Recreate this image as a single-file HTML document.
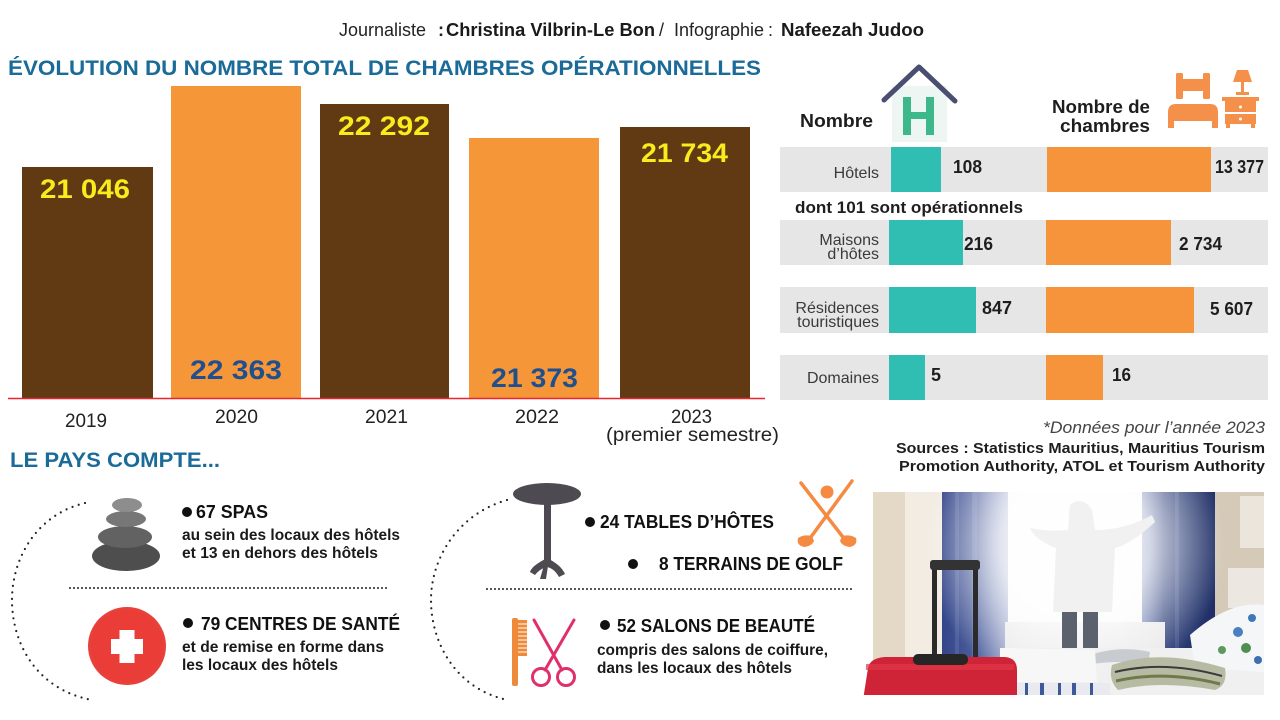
<!DOCTYPE html>
<html>
<head>
<meta charset="utf-8">
<style>
  html,body{margin:0;padding:0;background:#fff;}
  svg{display:block;}
  text{font-family:"Liberation Sans",Arial,sans-serif;}
</style>
</head>
<body>
<svg width="1280" height="720" viewBox="0 0 1280 720" xmlns="http://www.w3.org/2000/svg">
<defs>
  <radialGradient id="glow" cx="1075" cy="545" r="150" gradientUnits="userSpaceOnUse">
    <stop offset="0" stop-color="#ffffff" stop-opacity="1"/>
    <stop offset="0.5" stop-color="#ffffff" stop-opacity="0.75"/>
    <stop offset="1" stop-color="#ffffff" stop-opacity="0"/>
  </radialGradient>
  <linearGradient id="curtL" x1="942" y1="0" x2="1008" y2="0" gradientUnits="userSpaceOnUse">
    <stop offset="0" stop-color="#34468a"/>
    <stop offset="0.5" stop-color="#4a5c9a"/>
    <stop offset="1" stop-color="#9aa5cc"/>
  </linearGradient>
  <linearGradient id="curtR" x1="1142" y1="0" x2="1215" y2="0" gradientUnits="userSpaceOnUse">
    <stop offset="0" stop-color="#6a7bb0"/>
    <stop offset="0.3" stop-color="#2c3d78"/>
    <stop offset="1" stop-color="#1f2f66"/>
  </linearGradient>
  <clipPath id="pc"><rect x="873" y="492" width="391" height="203"/></clipPath>
  <clipPath id="sc"><rect x="860" y="490" width="420" height="205"/></clipPath>
</defs>

<!-- Header -->
<text x="339" y="36" font-size="18" fill="#222" textLength="87" lengthAdjust="spacingAndGlyphs">Journaliste</text>
<text x="438" y="36" font-size="18" fill="#222" font-weight="bold">:</text>
<text x="446" y="36" font-size="18" fill="#1a1a1a" font-weight="bold" textLength="209" lengthAdjust="spacingAndGlyphs">Christina Vilbrin-Le Bon</text>
<text x="659" y="36" font-size="18" fill="#222">/</text>
<text x="674" y="36" font-size="18" fill="#222" textLength="90" lengthAdjust="spacingAndGlyphs">Infographie</text>
<text x="768" y="36" font-size="18" fill="#222">:</text>
<text x="781" y="36" font-size="18" fill="#1a1a1a" font-weight="bold" textLength="143" lengthAdjust="spacingAndGlyphs">Nafeezah Judoo</text>

<!-- Title -->
<text x="8" y="75" font-size="21" font-weight="bold" fill="#1b6b99" textLength="753" lengthAdjust="spacingAndGlyphs">ÉVOLUTION DU NOMBRE TOTAL DE CHAMBRES OPÉRATIONNELLES</text>

<!-- Bars -->
<rect x="22" y="167" width="131" height="231" fill="#613a14"/>
<rect x="171" y="86" width="130" height="312" fill="#f59638"/>
<rect x="320" y="104" width="129" height="294" fill="#613a14"/>
<rect x="469" y="138" width="130" height="260" fill="#f59638"/>
<rect x="620" y="127" width="130" height="271" fill="#613a14"/>
<line x1="8" y1="398.5" x2="765" y2="398.5" stroke="#e8262f" stroke-width="1.5"/>

<text x="40" y="198" font-size="27" font-weight="bold" fill="#f7ec1c" textLength="90" lengthAdjust="spacingAndGlyphs">21 046</text>
<text x="190" y="379" font-size="27" font-weight="bold" fill="#1f4f8f" textLength="92" lengthAdjust="spacingAndGlyphs">22 363</text>
<text x="338" y="135" font-size="27" font-weight="bold" fill="#f7ec1c" textLength="92" lengthAdjust="spacingAndGlyphs">22 292</text>
<text x="491" y="387" font-size="27" font-weight="bold" fill="#1f4f8f" textLength="87" lengthAdjust="spacingAndGlyphs">21 373</text>
<text x="641" y="162" font-size="27" font-weight="bold" fill="#f7ec1c" textLength="87" lengthAdjust="spacingAndGlyphs">21 734</text>

<!-- Year labels -->
<text x="65" y="427" font-size="19" fill="#222" textLength="42" lengthAdjust="spacingAndGlyphs">2019</text>
<text x="215" y="423" font-size="19" fill="#222" textLength="43" lengthAdjust="spacingAndGlyphs">2020</text>
<text x="365" y="423" font-size="19" fill="#222" textLength="43" lengthAdjust="spacingAndGlyphs">2021</text>
<text x="515" y="423" font-size="19" fill="#222" textLength="44" lengthAdjust="spacingAndGlyphs">2022</text>
<text x="671" y="423" font-size="19" fill="#222" textLength="41" lengthAdjust="spacingAndGlyphs">2023</text>
<text x="606" y="441" font-size="19" fill="#222" textLength="173" lengthAdjust="spacingAndGlyphs">(premier semestre)</text>

<text x="10" y="467" font-size="21" font-weight="bold" fill="#1b6b99" textLength="210" lengthAdjust="spacingAndGlyphs">LE PAYS COMPTE...</text>

<!-- Right panel header -->
<text x="800" y="127" font-size="18" font-weight="bold" fill="#1e1e1e" textLength="73" lengthAdjust="spacingAndGlyphs">Nombre</text>
<rect x="892" y="86" width="55" height="56" fill="#eef6f3"/>
<polyline points="884,100 919,67 955,101" fill="none" stroke="#4a4f72" stroke-width="5" stroke-linecap="round" stroke-linejoin="round"/>
<rect x="903" y="97" width="8" height="38" fill="#3cb88b"/>
<rect x="926" y="97" width="8" height="38" fill="#3cb88b"/>
<rect x="903" y="112" width="31" height="7" fill="#3cb88b"/>

<text x="1052" y="113" font-size="18" font-weight="bold" fill="#1e1e1e" textLength="98" lengthAdjust="spacingAndGlyphs">Nombre de</text>
<text x="1060" y="132" font-size="18" font-weight="bold" fill="#1e1e1e" textLength="90" lengthAdjust="spacingAndGlyphs">chambres</text>

<!-- bed icon -->
<g fill="#f5904a">
  <rect x="1176" y="73" width="7" height="26" rx="1.5"/>
  <rect x="1203" y="73" width="7" height="26" rx="1.5"/>
  <rect x="1176" y="79" width="34" height="12"/>
  <path d="M1168 128 L1168 112 Q1168 104 1176 104 L1210 104 Q1218 104 1218 112 L1218 128 L1212 128 L1212 121 L1174 121 L1174 128 Z"/>
  <path d="M1233 82 L1237 70 L1248 70 L1252 82 Z"/>
  <rect x="1241" y="82" width="3" height="11"/>
  <rect x="1236" y="92" width="13" height="3"/>
  <rect x="1222" y="97" width="37" height="4"/>
  <rect x="1225" y="101" width="31" height="23"/>
  <rect x="1226" y="124" width="4" height="4"/>
  <rect x="1251" y="124" width="4" height="4"/>
</g>
<rect x="1225" y="112" width="31" height="2" fill="#fff"/>
<circle cx="1240.5" cy="107" r="1.5" fill="#fff"/>
<circle cx="1240.5" cy="119" r="1.5" fill="#fff"/>

<!-- Rows -->
<rect x="780" y="147" width="488" height="45" fill="#e6e6e6"/>
<rect x="891" y="147" width="50" height="45" fill="#30bdb2"/>
<rect x="1047" y="147" width="164" height="45" fill="#f5943a"/>
<text x="879" y="178" font-size="16" fill="#3a3a3a" text-anchor="end">Hôtels</text>
<text x="953" y="173" font-size="18" font-weight="bold" fill="#1e1e1e" textLength="29" lengthAdjust="spacingAndGlyphs">108</text>
<text x="1215" y="173" font-size="18" font-weight="bold" fill="#1e1e1e" textLength="49" lengthAdjust="spacingAndGlyphs">13 377</text>

<text x="795" y="213" font-size="17" font-weight="bold" fill="#1e1e1e" textLength="228" lengthAdjust="spacingAndGlyphs">dont 101 sont opérationnels</text>

<rect x="780" y="220" width="488" height="45" fill="#e6e6e6"/>
<rect x="889" y="220" width="74" height="45" fill="#30bdb2"/>
<rect x="1046" y="220" width="125" height="45" fill="#f5943a"/>
<text x="879" y="245" font-size="16" fill="#3a3a3a" text-anchor="end">Maisons</text>
<text x="879" y="259" font-size="16" fill="#3a3a3a" text-anchor="end">d’hôtes</text>
<text x="964" y="250" font-size="18" font-weight="bold" fill="#1e1e1e" textLength="29" lengthAdjust="spacingAndGlyphs">216</text>
<text x="1179" y="250" font-size="18" font-weight="bold" fill="#1e1e1e" textLength="43" lengthAdjust="spacingAndGlyphs">2 734</text>

<rect x="780" y="287" width="488" height="46" fill="#e6e6e6"/>
<rect x="889" y="287" width="87" height="46" fill="#30bdb2"/>
<rect x="1046" y="287" width="148" height="46" fill="#f5943a"/>
<text x="879" y="313" font-size="16" fill="#3a3a3a" text-anchor="end">Résidences</text>
<text x="879" y="327" font-size="16" fill="#3a3a3a" text-anchor="end">touristiques</text>
<text x="982" y="314" font-size="18" font-weight="bold" fill="#1e1e1e" textLength="30" lengthAdjust="spacingAndGlyphs">847</text>
<text x="1210" y="315" font-size="18" font-weight="bold" fill="#1e1e1e" textLength="43" lengthAdjust="spacingAndGlyphs">5 607</text>

<rect x="780" y="355" width="488" height="45" fill="#e6e6e6"/>
<rect x="889" y="355" width="36" height="45" fill="#30bdb2"/>
<rect x="1046" y="355" width="57" height="45" fill="#f5943a"/>
<text x="879" y="383" font-size="16" fill="#3a3a3a" text-anchor="end">Domaines</text>
<text x="931" y="381" font-size="18" font-weight="bold" fill="#1e1e1e">5</text>
<text x="1112" y="381" font-size="18" font-weight="bold" fill="#1e1e1e" textLength="19" lengthAdjust="spacingAndGlyphs">16</text>

<text x="1265" y="433" font-size="17" font-style="italic" fill="#444" text-anchor="end" textLength="222" lengthAdjust="spacingAndGlyphs">*Données pour l’année 2023</text>
<text x="1265" y="453" font-size="15" font-weight="bold" fill="#1e1e1e" text-anchor="end" textLength="369" lengthAdjust="spacingAndGlyphs">Sources : Statistics Mauritius, Mauritius Tourism</text>
<text x="1265" y="471" font-size="15" font-weight="bold" fill="#1e1e1e" text-anchor="end" textLength="366" lengthAdjust="spacingAndGlyphs">Promotion Authority, ATOL et Tourism Authority</text>

<!-- Bottom left -->
<path d="M85 503 C35 515 12 560 12 600 C12 645 38 690 92 700" fill="none" stroke="#222" stroke-width="2.2" stroke-dasharray="0 6.5" stroke-linecap="round"/>
<line x1="70" y1="588" x2="388" y2="588" stroke="#222" stroke-width="2" stroke-dasharray="0 4" stroke-linecap="round"/>

<ellipse cx="126" cy="556" rx="34" ry="15" fill="#4e4e4e"/>
<ellipse cx="125" cy="537" rx="27" ry="11" fill="#626262"/>
<ellipse cx="126" cy="519" rx="20" ry="8" fill="#777"/>
<ellipse cx="127" cy="505" rx="15" ry="7" fill="#8d8d8d"/>

<circle cx="187" cy="512" r="5" fill="#111"/>
<text x="196" y="518" font-size="18" font-weight="bold" fill="#111" textLength="72" lengthAdjust="spacingAndGlyphs">67 SPAS</text>
<text x="182" y="540" font-size="15.5" font-weight="bold" fill="#1a1a1a" textLength="218" lengthAdjust="spacingAndGlyphs">au sein des locaux des hôtels</text>
<text x="182" y="558" font-size="15.5" font-weight="bold" fill="#1a1a1a" textLength="196" lengthAdjust="spacingAndGlyphs">et 13 en dehors des hôtels</text>

<circle cx="127" cy="646" r="39" fill="#e8413c"/>
<circle cx="127" cy="646" r="36" fill="#ea3d37"/>
<rect x="111" y="639" width="32" height="15" fill="#fff"/>
<rect x="119.5" y="630" width="15" height="33" fill="#fff"/>

<circle cx="188" cy="623" r="5" fill="#111"/>
<text x="201" y="630" font-size="18" font-weight="bold" fill="#111" textLength="199" lengthAdjust="spacingAndGlyphs">79 CENTRES DE SANTÉ</text>
<text x="182" y="652" font-size="15.5" font-weight="bold" fill="#1a1a1a" textLength="202" lengthAdjust="spacingAndGlyphs">et de remise en forme dans</text>
<text x="182" y="670" font-size="15.5" font-weight="bold" fill="#1a1a1a" textLength="156" lengthAdjust="spacingAndGlyphs">les locaux des hôtels</text>

<!-- Bottom middle -->
<path d="M507 500 C458 514 431 558 431 600 C431 645 458 690 508 700" fill="none" stroke="#222" stroke-width="2.2" stroke-dasharray="0 6.5" stroke-linecap="round"/>
<line x1="487" y1="589" x2="855" y2="589" stroke="#222" stroke-width="2" stroke-dasharray="0 4" stroke-linecap="round"/>

<!-- table -->
<g fill="#4d4b51">
  <ellipse cx="547" cy="494" rx="34" ry="11"/>
  <rect x="544" y="500" width="7" height="62"/>
  <path d="M547 558 C540 562 532 566 530 572 L535 575 C539 570 543 568 547 567 C551 568 555 570 559 577 L565 574 C562 567 555 562 547 558 Z"/>
  <path d="M544 565 L540 579 L546 579 L548 566 Z"/>
</g>
<circle cx="590" cy="522" r="5" fill="#111"/>
<text x="600" y="528" font-size="18" font-weight="bold" fill="#111" textLength="174" lengthAdjust="spacingAndGlyphs">24 TABLES D’HÔTES</text>

<!-- golf -->
<g stroke="#f58b43" stroke-width="3.5" stroke-linecap="round" fill="none">
  <line x1="801" y1="483" x2="846" y2="541"/>
  <line x1="852" y1="481" x2="808" y2="541"/>
</g>
<g fill="#f58b43">
  <circle cx="827" cy="492" r="6.5"/>
  <path d="M842 536 Q850 534 856 538 Q858 545 850 547 Q842 546 840 541 Z"/>
  <path d="M812 536 Q804 534 798 538 Q796 545 804 547 Q812 546 814 541 Z"/>
</g>
<circle cx="633" cy="564" r="5" fill="#111"/>
<text x="659" y="570" font-size="18" font-weight="bold" fill="#111" textLength="184" lengthAdjust="spacingAndGlyphs">8 TERRAINS DE GOLF</text>

<!-- comb -->
<g fill="#ef8a3a">
  <rect x="512" y="618" width="6" height="68" rx="2"/>
  <rect x="518" y="620" width="9" height="36"/>
</g>
<g stroke="#fff" stroke-width="1">
  <line x1="518" y1="624" x2="527" y2="624"/><line x1="518" y1="628" x2="527" y2="628"/>
  <line x1="518" y1="632" x2="527" y2="632"/><line x1="518" y1="636" x2="527" y2="636"/>
  <line x1="518" y1="640" x2="527" y2="640"/><line x1="518" y1="644" x2="527" y2="644"/>
  <line x1="518" y1="648" x2="527" y2="648"/><line x1="518" y1="652" x2="527" y2="652"/>
</g>
<!-- scissors -->
<g stroke="#e0306a" stroke-width="3" fill="none" stroke-linecap="round">
  <line x1="534" y1="620" x2="562" y2="670"/>
  <line x1="574" y1="620" x2="545" y2="670"/>
  <circle cx="541" cy="677" r="8.5"/>
  <circle cx="566" cy="677" r="8.5"/>
</g>
<circle cx="605" cy="625" r="5" fill="#111"/>
<text x="617" y="632" font-size="18" font-weight="bold" fill="#111" textLength="198" lengthAdjust="spacingAndGlyphs">52 SALONS DE BEAUTÉ</text>
<text x="597" y="655" font-size="15.5" font-weight="bold" fill="#1a1a1a" textLength="231" lengthAdjust="spacingAndGlyphs">compris des salons de coiffure,</text>
<text x="597" y="673" font-size="15.5" font-weight="bold" fill="#1a1a1a" textLength="195" lengthAdjust="spacingAndGlyphs">dans les locaux des hôtels</text>

<!-- Photo -->
<g clip-path="url(#pc)">
  <rect x="873" y="492" width="391" height="203" fill="#ece6dc"/>
  <rect x="873" y="492" width="32" height="203" fill="#e4d8c6"/>
  <rect x="905" y="492" width="37" height="203" fill="#f2ece3"/>
  <rect x="942" y="492" width="66" height="172" fill="url(#curtL)"/>
  <rect x="955" y="492" width="4" height="172" fill="#5a6ca6" opacity="0.6"/>
  <rect x="972" y="492" width="5" height="172" fill="#6b7cb2" opacity="0.5"/>
  <rect x="1008" y="492" width="134" height="160" fill="#f9f9f9"/>
  <rect x="1142" y="492" width="73" height="160" fill="url(#curtR)"/>
  <rect x="1175" y="492" width="4" height="160" fill="#4a5b95" opacity="0.6"/>
  <rect x="1215" y="492" width="49" height="203" fill="#d5cab8"/>
  <rect x="1240" y="496" width="24" height="52" fill="#ebe5db"/>
  <rect x="1228" y="568" width="36" height="40" fill="#ece7e0"/>
  <rect x="1005" y="622" width="160" height="30" fill="#e9e9ea"/>
  <rect x="873" y="492" width="391" height="203" fill="url(#glow)"/>
  <!-- woman -->
  <path d="M1070 505 Q1082 495 1092 510 L1095 530 Q1125 530 1152 515 L1155 522 Q1130 545 1115 548 L1112 612 L1053 612 L1056 548 Q1035 540 1030 528 Q1050 532 1068 530 Z" fill="#f1f1f1"/>
  <rect x="1062" y="612" width="15" height="45" fill="#5c626d"/>
  <rect x="1083" y="612" width="15" height="45" fill="#5c626d"/>
  <!-- bed -->
  <rect x="1000" y="648" width="264" height="47" fill="#f0f0f0"/>
  <path d="M1190 635 Q1230 600 1264 605 L1264 672 L1195 668 Z" fill="#f4f6f8"/>
  <circle cx="1238" cy="632" r="5" fill="#4a7fc0"/>
  <circle cx="1252" cy="618" r="4" fill="#3f77b8"/>
  <circle cx="1222" cy="650" r="4" fill="#5a9a5a"/>
  <circle cx="1246" cy="648" r="5" fill="#4f8f4f"/>
  <circle cx="1258" cy="660" r="4" fill="#3f6fb0"/>
  <path d="M1090 655 Q1120 645 1150 652 L1148 664 Q1120 660 1092 664 Z" fill="#c8ccd0"/>
  <path d="M1112 665 Q1160 648 1225 668 Q1228 685 1215 690 Q1160 680 1118 690 Q1108 680 1112 665 Z" fill="#b8bba3"/>
  <path d="M1115 672 Q1165 660 1222 676" stroke="#3b3b3b" stroke-width="2" fill="none"/>
  <path d="M1116 681 Q1165 670 1220 684" stroke="#6e7a4a" stroke-width="3" fill="none"/>
  <path d="M1000 648 L1095 650 L1097 682 L1000 682 Z" fill="#f7f7f7"/>
  <rect x="1017" y="683" width="93" height="12" fill="#e8eaef"/>
  <g fill="#3c5a9a">
    <rect x="1025" y="683" width="3" height="12"/><rect x="1040" y="683" width="4" height="12"/>
    <rect x="1058" y="683" width="3" height="12"/><rect x="1072" y="683" width="4" height="12"/>
    <rect x="1090" y="683" width="3" height="12"/>
  </g>
</g>
<!-- suitcase -->
<g clip-path="url(#sc)">
  <rect x="932" y="562" width="5" height="98" fill="#2b2b2b"/>
  <rect x="973" y="562" width="5" height="98" fill="#2b2b2b"/>
  <rect x="930" y="560" width="50" height="10" rx="3" fill="#333"/>
  <path d="M868 668 Q870 658 885 657 L1005 657 Q1017 658 1017 670 L1017 700 L863 700 Z" fill="#cf2437"/>
  <rect x="866" y="664" width="148" height="6" fill="#e03848" opacity="0.7"/>
  <rect x="913" y="654" width="55" height="11" rx="5" fill="#262626"/>
</g>
</svg>
</body>
</html>
